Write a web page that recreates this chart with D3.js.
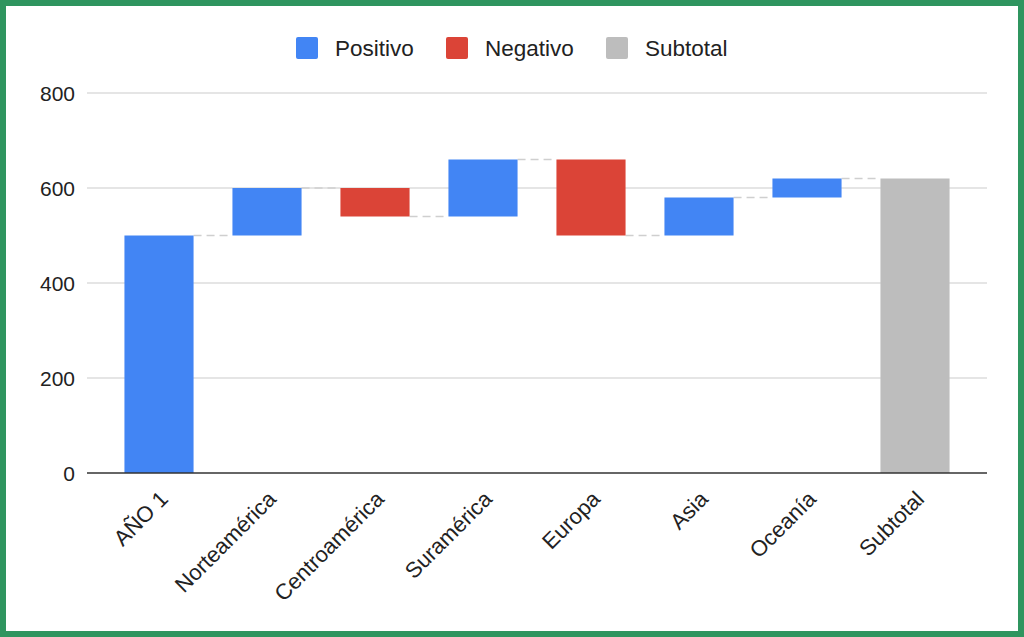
<!DOCTYPE html>
<html><head><meta charset="utf-8">
<script src="https://cdn.jsdelivr.net/npm/d3@7"></script>
<style>
html,body{margin:0;padding:0;background:#fff;}
svg{display:block;font-family:"Liberation Sans",Arial,sans-serif;}
</style></head>
<body>
<svg id="c" width="1024" height="637"></svg>
<script>
const categories = ["AÑO 1","Norteamérica","Centroamérica","Suramérica","Europa","Asia","Oceanía","Subtotal"];
const changes = [500, 100, -60, 120, -160, 80, 40, null]; // null = subtotal
const kinds = ["Positivo","Positivo","Negativo","Positivo","Negativo","Positivo","Positivo","Subtotal"];
const legendLabels = ["Positivo","Negativo","Subtotal"];
const legendColors = ["#4285f4","#db4437","#bdbdbd"];
const yTicks = [0,200,400,600,800];

// build waterfall segments
let run = 0;
const segs = categories.map((c,i)=>{
  if (changes[i] === null) { return {c, start:0, end:run, kind:kinds[i]}; }
  const s = run; run += changes[i];
  return {c, start:s, end:run, kind:kinds[i]};
});

const svg = d3.select("#c");
// border
svg.append("rect").attr("x",3).attr("y",3).attr("width",1018).attr("height",631)
  .attr("fill","#fff").attr("stroke","#2f955f").attr("stroke-width",6);

const x = d3.scaleBand().domain(categories).range([105,969]).paddingInner(0.36).paddingOuter(0.18);
const y = d3.scaleLinear().domain([0,800]).range([473,93]);
const color = d3.scaleOrdinal().domain(legendLabels).range(legendColors);

// gridlines
svg.append("g").selectAll("line").data(yTicks.filter(t=>t>0)).join("line")
  .attr("x1",87).attr("x2",987).attr("y1",d=>y(d)).attr("y2",d=>y(d))
  .attr("stroke","#cccccc").attr("stroke-width",1.2);

// y labels
svg.append("g").selectAll("text").data(yTicks).join("text")
  .attr("x",75).attr("y",d=>y(d)).attr("dy","0.36em").attr("text-anchor","end")
  .attr("font-size",21).attr("fill","#222").text(d=>d);

// connectors
svg.append("g").selectAll("line").data(segs.slice(0,-1)).join("line")
  .attr("x1",(d)=>x(d.c)+x.bandwidth())
  .attr("x2",(d,i)=>x(categories[i+1]))
  .attr("y1",d=>y(d.end)).attr("y2",d=>y(d.end))
  .attr("stroke","#cfcfcf").attr("stroke-width",1.5).attr("stroke-dasharray","8,5");

// bars
svg.append("g").selectAll("rect").data(segs).join("rect")
  .attr("x",d=>x(d.c)).attr("width",x.bandwidth())
  .attr("y",d=>y(Math.max(d.start,d.end)))
  .attr("height",d=>Math.abs(y(d.start)-y(d.end)))
  .attr("fill",d=>color(d.kind));

// baseline
svg.append("line").attr("x1",87).attr("x2",987).attr("y1",y(0)).attr("y2",y(0))
  .attr("stroke","#333").attr("stroke-width",1.5);

// x labels
svg.append("g").selectAll("text").data(categories).join("text")
  .attr("transform",d=>`translate(${x(d)+x.bandwidth()/2+5},${y(0)+22}) rotate(-45)`)
  .attr("text-anchor","end").attr("dy","0.35em")
  .attr("font-size",22).attr("fill","#222").text(d=>d);

// legend
const lg = svg.append("g");
const legendX = [296,446,606];
legendLabels.forEach((l,i)=>{
  lg.append("rect").attr("x",legendX[i]).attr("y",37).attr("width",22).attr("height",22)
    .attr("rx",2).attr("fill",legendColors[i]);
  lg.append("text").attr("x",legendX[i]+39).attr("y",48).attr("dy","0.36em")
    .attr("font-size",22.5).attr("fill","#222").text(l);
});
</script>
</body></html>
